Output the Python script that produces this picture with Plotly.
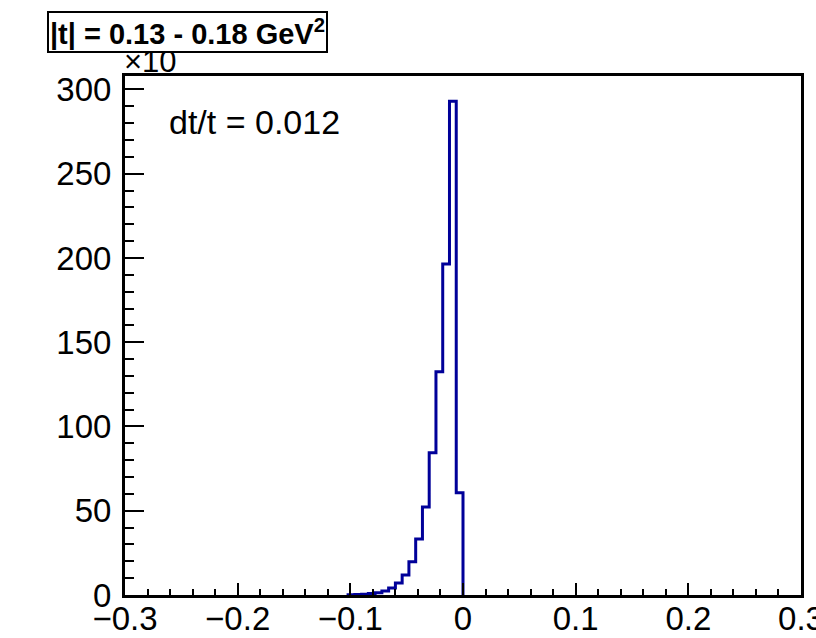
import numpy as np
import plotly.graph_objects as go

# Histogram: 100 bins from -0.3 to 0.3, counts in units of 10^3
x_min, x_max, n_bins = -0.3, 0.3, 100
# Non-zero bin contents, listed from the bin just below 0 going leftwards
tail_counts = [60.7, 293.0, 196.4, 132.5, 84.4, 52.2, 33.2, 19.8, 11.9,
               7.1, 4.2, 2.4, 1.4, 0.9, 0.5, 0.3, 0.1]
title_text = "|t| = 0.13 - 0.18 GeV<sup>2</sup>"
label_text = "dt/t = 0.012"
scale_text = "\u00d710"
x_ticks = [-0.3, -0.2, -0.1, 0, 0.1, 0.2, 0.3]
y_ticks = [0, 50, 100, 150, 200, 250, 300]

edges = np.linspace(x_min, x_max, n_bins + 1)
counts = np.zeros(n_bins)
zero_idx = int(round((0 - x_min) / (x_max - x_min) * n_bins))
for k, v in enumerate(tail_counts):
    counts[zero_idx - 1 - k] = v

nz = np.nonzero(counts)[0]
i0, i1 = nz[0], nz[-1] + 1
xs = [edges[i0]] + list(edges[i0:i1 + 1])
ys = [0.0] + list(counts[i0:i1]) + [0.0]

FONT = "Liberation Sans, Arial, Helvetica, sans-serif"

fig = go.Figure()
fig.add_trace(go.Scatter(x=xs, y=ys, mode="lines", line_shape="hv",
                         line=dict(color="#000099", width=3),
                         hoverinfo="skip", showlegend=False))

axis_common = dict(showgrid=False, zeroline=False, showline=True,
                   linecolor="black", linewidth=3, mirror=True,
                   ticks="inside", tickcolor="black", tickwidth=2,
                   automargin=False, layer="above traces",
                   ticklabeloverflow="allow",
                   tickfont=dict(family=FONT, size=33, color="black"))

fig.update_layout(
    width=816, height=638,
    margin=dict(l=125, r=15, t=76, b=43),
    paper_bgcolor="white", plot_bgcolor="white",
    xaxis=dict(range=[x_min, x_max], tickvals=x_ticks,
               ticktext=[("\u2212" if v < 0 else "") + f"{abs(v):g}" for v in x_ticks],
               ticklen=12, ticklabelstandoff=-8,
               minor=dict(dtick=0.02, ticks="inside", ticklen=6,
                          tickwidth=2, tickcolor="black", showgrid=False),
               **axis_common),
    yaxis=dict(range=[0, 308], tickvals=y_ticks, ticklen=19,
               minor=dict(dtick=10, ticks="inside", ticklen=9,
                          tickwidth=2, tickcolor="black", showgrid=False),
               ticklabelstandoff=4,
               **axis_common),
)

fig.add_annotation(xref="paper", yref="paper", x=-0.004, y=1.027,
                   text=scale_text, showarrow=False,
                   xanchor="left", yanchor="middle",
                   font=dict(family=FONT, size=31, color="black"))
fig.add_annotation(xref="paper", yref="paper", x=-0.115, y=1.085,
                   text="<b>" + title_text + "</b>", showarrow=False,
                   xanchor="left", yanchor="middle",
                   bgcolor="white", bordercolor="black", borderwidth=2,
                   borderpad=1,
                   font=dict(family=FONT, size=29, color="black"))
fig.add_annotation(xref="paper", yref="paper", x=0.062, y=0.911,
                   text=label_text, showarrow=False,
                   xanchor="left", yanchor="middle",
                   font=dict(family=FONT, size=34, color="black"))

fig.write_html("out.html")
